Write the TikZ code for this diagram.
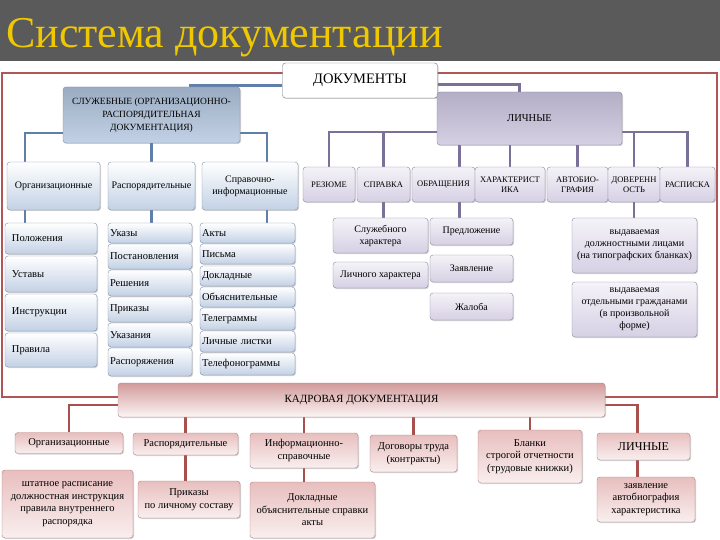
\documentclass[tikz,border=0pt]{standalone}
\usepackage{fontspec}
\setmainfont{Liberation Serif}
\usetikzlibrary{shadows,backgrounds}

\definecolor{barbg}{HTML}{5A5A5A}
\definecolor{titleyel}{HTML}{F0C800}
\definecolor{framered}{HTML}{B05656}
\definecolor{bluline}{HTML}{5F7FA8}
\definecolor{purline}{HTML}{7A7098}
\definecolor{redline}{HTML}{A8504C}
\definecolor{bluedge}{HTML}{7D8DA5}
\definecolor{blufill}{HTML}{C3D1E5}
\definecolor{bluetop}{HTML}{9AACC2}
\definecolor{puredge}{HTML}{8A84A0}
\definecolor{purfill}{HTML}{D6D0E4}
\definecolor{purtop}{HTML}{B4AEC6}
\definecolor{pinkedge}{HTML}{B07C7C}
\definecolor{pinkfill}{HTML}{E8BEBE}
\definecolor{pinktop}{HTML}{D29A9A}

\tikzset{
  box/.style={rounded corners=3pt, inner sep=2pt, align=center,
    font=\fontsize{10}{12}\selectfont,
    drop shadow={shadow xshift=1pt, shadow yshift=-1pt, opacity=.35}},
  blubox/.style={box, draw=bluedge, top color=white, bottom color=blufill},
  purbox/.style={box, draw=puredge, top color=purfill!25, bottom color=purfill},
  pinkbox/.style={box, draw=pinkedge, top color=pinkfill, bottom color=pinkfill!25,
    font=\fontsize{10.5}{12.5}\selectfont},
  listbox/.style={blubox, align=left, text width=#1, font=\fontsize{10.5}{12}\selectfont},
  capsbox/.style={purbox, font=\fontsize{8.5}{10}\selectfont},
  dokbox/.style={box, draw=bluedge!80!black, fill=white, font=\fontsize{14.5}{16}\selectfont},
  bluwire/.style={bluline, line width=2.5pt},
  purwire/.style={purline, line width=2.5pt},
  redwire/.style={redline, line width=2.5pt}
}

\begin{document}
\begin{tikzpicture}[x=1pt,y=-1pt]
\useasboundingbox (0,0) rectangle (720,540);
\fill[barbg] (0,0) rectangle (720,61);
\node[anchor=base west, text=titleyel, inner sep=0pt, font=\fontsize{44}{44}\selectfont] (title) at (6,48) {Система документации};
\draw[framered, line width=2.5pt] (2,73) rectangle (717,397);

\node[dokbox, minimum width=155pt, minimum height=35pt] (dok) at (360,80.5) {ДОКУМЕНТЫ};
\node[blubox, top color=bluetop, middle color=white, bottom color=blufill, font=\fontsize{9.5}{13}\selectfont,
  minimum width=177pt, minimum height=56pt] (sl) at (151.5,115) {СЛУЖЕБНЫЕ (ОРГАНИЗАЦИОННО-\\РАСПОРЯДИТЕЛЬНАЯ\\ДОКУМЕНТАЦИЯ)};
\node[purbox, top color=purtop, middle color=purfill!20, bottom color=purfill, font=\fontsize{10.5}{12}\selectfont,
  minimum width=185pt, minimum height=53pt] (lich) at (529.5,118.5) {ЛИЧНЫЕ};

\node[blubox, minimum width=93pt, minimum height=48pt] (sorg) at (53.5,186) {Организационные};
\node[blubox, minimum width=87pt, minimum height=48pt] (sras) at (151.5,186) {Распорядительные};
\node[blubox, minimum width=96pt, minimum height=48pt] (sspr) at (250,186) {Справочно-\\информационные};

\foreach \nm/\txt/\yc/\hh in {pol/Положения/238.5/31, ust/Уставы/274/36, instr/Инструкции/312.5/37, prav/Правила/350/34}
  \node[listbox=78pt, inner xsep=7pt, minimum height=\hh] (\nm) at (51,\yc) {\txt};
\foreach \nm/\txt/\yc/\hh in {ukazy/Указы/233/20, post/Постановления/256.5/25, resh/Решения/283/26,
    prik/Приказы/309.5/25, ukaz/Указания/335/24, rasp/Распоряжения/362/28}
  \node[listbox=80pt, inner xsep=2pt, minimum height=\hh] (\nm) at (150,\yc) {\txt};
\foreach \nm/\txt/\yc/\hh in {akty/Акты/233/20, pisma/Письма/254/20, dokl/Докладные/276/20, obyas/Объяснительные/297/20,
    teleg/Телеграммы/319/22, lichl/Личные листки/341.5/21, telef/Телефонограммы/364/22}
  \node[listbox=91pt, inner xsep=2pt, minimum height=\hh] (\nm) at (247.5,\yc) {\txt};

\node[capsbox, minimum width=52pt, minimum height=35pt] (rez) at (329,184.5) {РЕЗЮМЕ};
\node[capsbox, minimum width=53pt, minimum height=35pt] (spr) at (383.5,184.5) {СПРАВКА};
\node[capsbox, minimum width=63pt, minimum height=35pt] (obr) at (443.5,184.5) {ОБРАЩЕНИЯ};
\node[capsbox, minimum width=70pt, minimum height=35pt] (har) at (510,184.5) {ХАРАКТЕРИСТ\\ИКА};
\node[capsbox, minimum width=61pt, minimum height=35pt] (avt) at (577.5,184.5) {АВТОБИО-\\ГРАФИЯ};
\node[capsbox, minimum width=52pt, minimum height=35pt] (dov) at (634,184.5) {ДОВЕРЕНН\\ОСТЬ};
\node[capsbox, minimum width=55pt, minimum height=35pt] (raspis) at (687.5,184.5) {РАСПИСКА};

\node[purbox, minimum width=95pt, minimum height=35pt] (sluzh) at (380.5,235.5) {Служебного\\характера};
\node[purbox, minimum width=95pt, minimum height=26pt] (lichh) at (380.5,275) {Личного характера};
\node[purbox, minimum width=83pt, minimum height=27pt] (predl) at (471.5,231.5) {Предложение};
\node[purbox, minimum width=83pt, minimum height=27pt] (zayav) at (471.5,268.5) {Заявление};
\node[purbox, minimum width=83pt, minimum height=27pt] (zhal) at (471.5,306.5) {Жалоба};
\node[purbox, minimum width=125pt, minimum height=55pt] (vyd1) at (634.5,245.5) {выдаваемая\\должностными лицами\\(на типографских бланках)};
\node[purbox, minimum width=125pt, minimum height=55pt] (vyd2) at (634.5,309.5) {выдаваемая\\отдельными гражданами\\(в произвольной\\форме)};

\node[pinkbox, top color=pinktop, bottom color=pinkfill!15, font=\fontsize{11}{13}\selectfont,
  minimum width=487pt, minimum height=34pt] (kadr) at (361.5,400) {КАДРОВАЯ ДОКУМЕНТАЦИЯ};
\node[pinkbox, minimum width=108pt, minimum height=21pt] (korg) at (69,443) {Организационные};
\node[pinkbox, minimum width=105pt, minimum height=22pt] (kras) at (185.5,444) {Распорядительные};
\node[pinkbox, minimum width=108pt, minimum height=35pt] (kinf) at (304,450.5) {Информационно-\\справочные};
\node[pinkbox, minimum width=87pt, minimum height=37pt] (kdog) at (413.5,453.5) {Договоры труда\\(контракты)};
\node[pinkbox, minimum width=104pt, minimum height=53pt] (kbl) at (530,456.5) {Бланки\\строгой отчетности\\(трудовые книжки)};
\node[pinkbox, minimum width=93pt, minimum height=27pt, font=\fontsize{12}{14}\selectfont] (klich) at (643.5,446.5) {ЛИЧНЫЕ};
\node[pinkbox, minimum width=131pt, minimum height=68pt] (kshtat) at (67.5,504) {штатное расписание\\должностная инструкция\\правила внутреннего\\распорядка};
\node[pinkbox, minimum width=102pt, minimum height=37pt] (kprik) at (189,499.5) {Приказы\\по личному составу};
\node[pinkbox, minimum width=125pt, minimum height=56pt] (kdokl) at (312.5,510) {Докладные\\объяснительные справки\\акты};
\node[pinkbox, minimum width=98pt, minimum height=45pt] (kzay) at (646,499.5) {заявление\\автобиография\\характеристика};

\begin{scope}[on background layer]
  \draw[bluwire] ([yshift=-5pt]dok.west) -| ([xshift=-50pt]sl.north east);
  \draw[purwire] ([yshift=-4pt]dok.east) -| ([xshift=-10pt]lich.north);
  \draw[bluwire] ([xshift=-28.5pt]sorg.north) |- ([yshift=-18pt]sl.center);
  \draw[bluwire] (sras.north) |- ([yshift=-18pt]sl.center);
  \draw[bluwire] ([xshift=17pt]sspr.north) |- ([yshift=-18pt]sl.center);
  \draw[bluwire] ([xshift=-28.5pt]sorg.south) -- ([xshift=-28.5pt]sorg.south |- pol.north);
  \draw[bluwire] (sras.south) -- (sras.south |- ukazy.north);
  \draw[bluwire] ([xshift=17pt]sspr.south) -- ([xshift=17pt]sspr.south |- akty.north);
  \foreach \c in {rez,spr,har,avt,dov,raspis}
    \draw[purwire] (\c.north) |- ([yshift=-13.5pt]lich.center);
  \draw[purwire] ([xshift=16pt]obr.north) |- ([yshift=-13.5pt]lich.center);
  \draw[purwire] (spr.south) -- (spr.south |- sluzh.north);
  \draw[purwire] ([xshift=16pt]obr.south) -- ([xshift=16pt]obr.south |- predl.north);
  \draw[purwire] (dov.south) -- (dov.south |- vyd1.north);
  \draw[redwire] ([yshift=-5pt]kadr.west) -| (korg.north);
  \draw[redwire] ([yshift=-5pt]kadr.east) -| ([xshift=-6pt]klich.north);
  \foreach \c in {kras,kinf,kdog,kbl}
    \draw[redwire] (\c.north) -- (\c.north |- kadr.south);
  \draw[redwire] (kras.south) -- (kras.south |- kprik.north);
  \draw[redwire] (kinf.south) -- (kinf.south |- kdokl.north);
  \draw[redwire] ([xshift=-6pt]klich.south) -- ([xshift=-6pt]klich.south |- kzay.north);
\end{scope}
\end{tikzpicture}
\end{document}
